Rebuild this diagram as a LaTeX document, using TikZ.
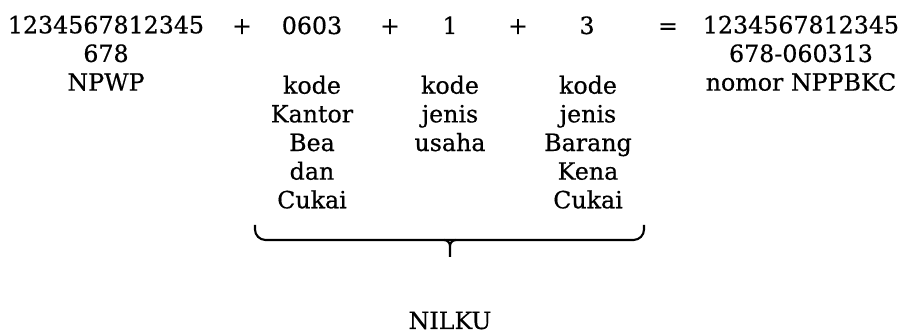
\documentclass[tikz,border=0pt]{standalone}
\usepackage{fontspec}
\setmainfont[FakeBold=0.5]{DejaVu Serif}
\usetikzlibrary{positioning}

\begin{document}
\begin{tikzpicture}[x=1cm,y=-1cm,
  every node/.style={inner sep=0pt,font=\fontsize{6.75pt}{8.15pt}\selectfont},
  col/.style={align=center,anchor=north},
  op/.style={anchor=base},
  bracket/.style={line width=0.6pt,rounded corners=3pt}]

\useasboundingbox (0,0) rectangle (9.03,3.33);

\node[col] (npwp) at (1.06,0.15) {1234567812345\\678\\NPWP};
\node[op] (plus_a) at (2.42,0.34) {+};
\node[op] (kppbc) at (3.12,0.34) {0603};
\node[op] (plus_b) at (3.90,0.34) {+};
\node[op] (usaha) at (4.50,0.34) {1};
\node[op] (plus_c) at (5.18,0.34) {+};
\node[op] (bkc) at (5.87,0.34) {3};
\node[op] (eq) at (6.68,0.34) {=};
\node[col] (nppbkc) at (8.01,0.15) {1234567812345\\678-060313\\nomor NPPBKC};

\node[col] (kppbc_t) at (3.12,0.75) {kode\\Kantor\\Bea\\dan\\Cukai};
\node[col] (usaha_t) at (4.50,0.75) {kode\\jenis\\usaha};
\node[col] (bkc_t) at (5.88,0.75) {kode\\jenis\\Barang\\Kena\\Cukai};

\coordinate (brace_l) at (2.55,2.25);
\coordinate (brace_r) at (6.44,2.25);
\coordinate (brace_m) at (4.50,2.57);
\draw[bracket] (brace_l) -- (2.55,2.40) -- (6.44,2.40) -- (brace_r);
\draw[line width=0.6pt] (4.44,2.40) to[out=0,in=90] (4.50,2.46) -- (brace_m);
\draw[line width=0.6pt] (4.56,2.40) to[out=180,in=90] (4.50,2.46);

\node[op] (nilku) at (4.50,3.29) {NILKU};

\end{tikzpicture}
\end{document}
